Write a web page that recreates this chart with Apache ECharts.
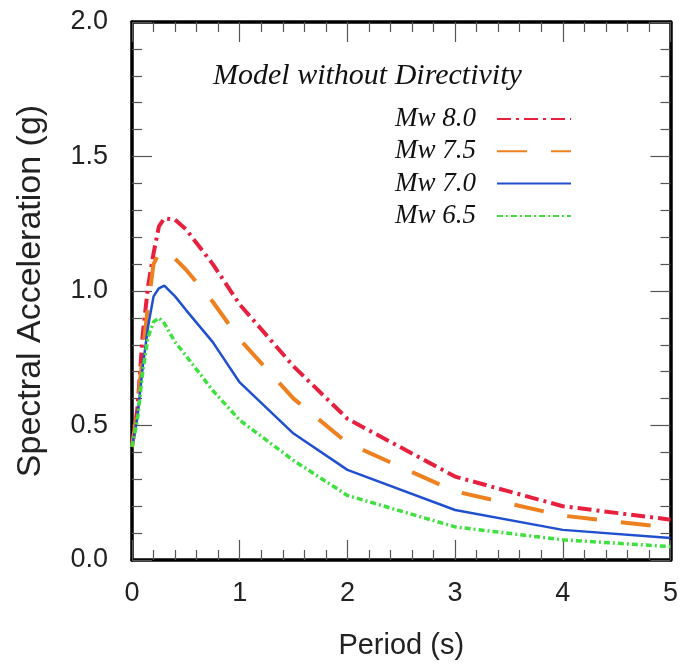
<!DOCTYPE html>
<html>
<head>
<meta charset="utf-8">
<script src="https://cdn.jsdelivr.net/npm/echarts@6/dist/echarts.min.js"></script>
<style>
  html, body { margin: 0; padding: 0; background: #fff; }
  #chart { width: 681px; height: 665px; }
</style>
</head>
<body>
<div id="chart"></div>
<script>
// periods (s) and spectral acceleration (g)
const periods = [0, 0.05, 0.1, 0.15, 0.2, 0.25, 0.3, 0.4, 0.5, 0.75, 1, 1.5, 2, 3, 4, 5];
const mw80 = [0.42, 0.56, 0.84, 1.02, 1.14, 1.24, 1.27, 1.265, 1.23, 1.10, 0.95, 0.72, 0.525, 0.31, 0.20, 0.15];
const mw75 = [0.42, 0.56, 0.77, 0.95, 1.10, 1.14, 1.15, 1.12, 1.08, 0.96, 0.82, 0.60, 0.435, 0.255, 0.165, 0.12];
const mw70 = [0.42, 0.53, 0.72, 0.87, 0.98, 1.01, 1.02, 0.98, 0.93, 0.81, 0.66, 0.47, 0.335, 0.186, 0.112, 0.082];
const mw65 = [0.42, 0.52, 0.70, 0.83, 0.885, 0.90, 0.88, 0.81, 0.76, 0.63, 0.52, 0.37, 0.24, 0.123, 0.075, 0.05];
const seriesNames = ['Mw 8.0', 'Mw 7.5', 'Mw 7.0', 'Mw 6.5'];
const xTicks = [0, 1, 2, 3, 4, 5];
const yTicks = [0, 0.5, 1.0, 1.5, 2.0];
const title = 'Model without Directivity';

const chart = echarts.init(document.getElementById('chart'));
const pair = ys => periods.map((p, i) => [p, ys[i]]);
const sans = 'Liberation Sans, Arial, Helvetica, sans-serif';
const serif = 'Liberation Serif, Times New Roman, serif';

function axisBase(showLabels) {
  return {
    type: 'value',
    axisLine: { show: true, onZero: false, lineStyle: { color: '#000', width: 3.5 } },
    axisTick: { show: true, inside: true, length: 20, lineStyle: { color: '#555', width: 1.2 } },
    minorTick: { show: true, splitNumber: 5, length: 10, lineStyle: { color: '#555', width: 1.2 } },
    splitLine: { show: false },
    axisLabel: { show: showLabels, color: '#222', fontFamily: sans, fontSize: 27 }
  };
}

const xMain = Object.assign(axisBase(true), {
  min: xTicks[0], max: xTicks[xTicks.length - 1], interval: 1, position: 'bottom',
  name: 'Period (s)', nameLocation: 'middle', nameGap: 71,
  nameTextStyle: { color: '#222', fontFamily: sans, fontSize: 29 }
});
xMain.axisLabel.margin = 20;
const xTop = Object.assign(axisBase(false), { min: 0, max: 5, interval: 1, position: 'top' });

const yMain = Object.assign(axisBase(true), {
  min: yTicks[0], max: yTicks[yTicks.length - 1], interval: 0.5, position: 'left',
  name: 'Spectral Acceleration (g)', nameLocation: 'middle', nameGap: 84,
  nameTextStyle: { color: '#222', fontFamily: sans, fontSize: 34 }
});
yMain.axisLabel.margin = 24;
yMain.axisLabel.formatter = v => v.toFixed(1);
const yRight = Object.assign(axisBase(false), { min: 0, max: 2, interval: 0.5, position: 'right' });

const styles = [
  { color: '#e8203f', width: 4, type: [14, 5, 3, 5] },
  { color: '#ef8020', width: 4, type: [30, 24] },
  { color: '#2050d0', width: 2.5, type: 'solid' },
  { color: '#3fe03f', width: 3.5, type: [6, 3, 2, 3] }
];
const data = [mw80, mw75, mw70, mw65];

chart.setOption({
  animation: false,
  backgroundColor: '#fff',
  title: {
    text: title, left: 213, top: 61, padding: 0,
    textStyle: { fontFamily: serif, fontStyle: 'italic', fontWeight: 'normal', fontSize: 30, color: '#111' }
  },
  legend: {
    data: seriesNames, orient: 'vertical', align: 'right', right: 109, top: 105,
    itemWidth: 74, itemHeight: 14, itemGap: 4.3, padding: 0,
    itemStyle: { color: 'rgba(0,0,0,0)', borderWidth: 0, opacity: 0 },
    textStyle: { fontFamily: serif, fontStyle: 'italic', fontSize: 27, lineHeight: 28, color: '#111', padding: [0, 16, 0, 0] }
  },
  grid: { left: 132, right: 10, top: 22, bottom: 105 },
  xAxis: [xMain, xTop],
  yAxis: [yMain, yRight],
  series: seriesNames.map((n, i) => ({
    name: n, type: 'line', symbol: 'none', showSymbol: false,
    xAxisIndex: 0, yAxisIndex: 0, clip: true,
    itemStyle: { color: styles[i].color },
    lineStyle: styles[i],
    data: pair(data[i])
  }))
});
window.addEventListener('resize', function () { chart.resize(); });
</script>
</body>
</html>
